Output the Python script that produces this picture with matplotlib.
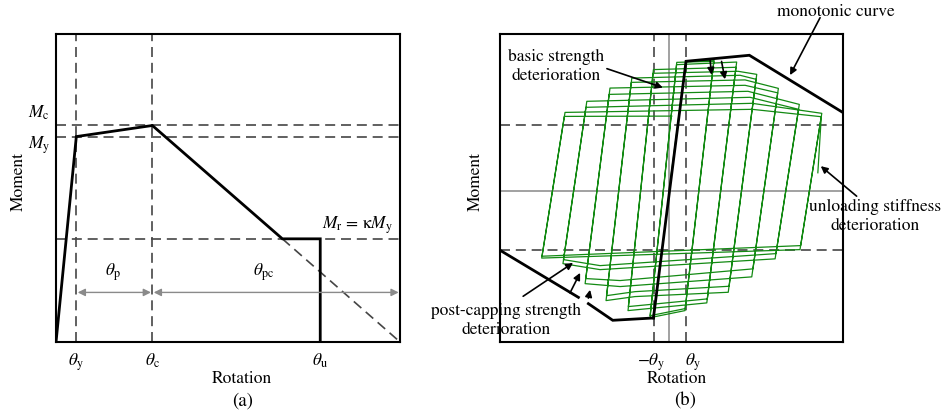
import numpy as np
import matplotlib
matplotlib.use("Agg")
import matplotlib.pyplot as plt

plt.rcParams['font.family'] = ['STIXGeneral', 'DejaVu Serif']
plt.rcParams['mathtext.fontset'] = 'stix'

#%% data, panel (a) backbone (normalised rotation / moment)
theta_y, theta_c, theta_u = 0.059, 0.28, 0.768
M_y, M_c, M_r = 0.667, 0.703, 0.335
theta_r = 0.658          # where the post-capping branch meets M_r
theta_end = 1.0          # post-capping branch extended to zero

bb_rot = [0.0, theta_y, theta_c, theta_r, theta_u, theta_u]
bb_mom = [0.0, M_y, M_c, M_r, M_r, 0.0]

#%% data, panel (b)
ty_neg, ty_pos = -0.087, 0.101
dash_hi, dash_lo = 0.427, -0.386

mono_pos_rot = [-0.091, 0.099, 0.468, 1.015]
mono_pos_mom = [-0.826, 0.841, 0.880, 0.507]
mono_neg_rot = [-0.091, -0.328, -0.470, np.nan, -0.528, -0.985]
mono_neg_mom = [-0.826, -0.841, -0.733, np.nan, -0.692, -0.386]

# cyclic response (two cycles per amplitude), vertices in loading order
hyst_rot = [0.0, 0.099,
            0.262, 0.093, -0.111, 0.045,                 # amp 1a
            0.261, 0.094, -0.110, 0.044,                 # amp 1b
            0.394, 0.220, -0.239, -0.091,                # amp 2a
            0.390, 0.223, -0.237, -0.093,                # amp 2b
            0.402, 0.511, 0.345, -0.198, -0.367, -0.217,  # amp 3a
            0.414, 0.507, 0.350, -0.198, -0.364, -0.220,  # amp 3b
            0.443, 0.637, 0.482, -0.285, -0.489, -0.344,  # amp 4a
            0.443, 0.633, 0.489, -0.285, -0.485, -0.349,  # amp 4b
            0.460, 0.759, 0.618, -0.402, -0.618, -0.479,  # amp 5a
            0.472, 0.755, 0.623, -0.402, -0.615, -0.484,  # amp 5b
            0.484, 0.890, 0.763, -0.742, -0.606,          # amp 6a
            0.484, 0.887, 0.767, -0.740, -0.610,          # amp 6b
            0.016]
hyst_mom = [0.0, 0.841,
            0.850, -0.778, -0.824, 0.834,
            0.841, -0.765, -0.811, 0.819,
            0.836, -0.728, -0.778, 0.787,
            0.802, -0.702, -0.752, 0.763,
            0.776, 0.756, -0.659, -0.687, -0.713, 0.732,
            0.750, 0.724, -0.620, -0.655, -0.681, 0.704,
            0.720, 0.665, -0.559, -0.622, -0.603, 0.667,
            0.685, 0.636, -0.507, -0.583, -0.570, 0.626,
            0.646, 0.561, -0.442, -0.512, -0.473, 0.581,
            0.607, 0.529, -0.408, -0.486, -0.447, 0.542,
            0.568, 0.503, -0.382, -0.437, 0.509,
            0.529, 0.481, -0.356, -0.425, 0.483,
            0.485]
# elastic unloading reference from last positive peak
elastic_ref_rot = [0.887, 0.867]
elastic_ref_mom = [0.481, 0.117]

DASH = dict(color='#454545', lw=1.2, ls=(0, (6, 3.5)))
FS = 12.5

fig = plt.figure(figsize=(9.48, 4.2), dpi=100)

#%% panel (a)
ax = fig.add_axes([0.0591, 0.1857, 0.3629, 0.7333])
ax.set_xlim(0, 1)
ax.set_ylim(0, 1)
for s in ax.spines.values():
    s.set_linewidth(1.5)
ax.set_xticks([])
ax.set_yticks([])

for xv in (theta_y, theta_c):
    ax.axvline(xv, **DASH)
for yv in (M_c, M_y, M_r):
    ax.axhline(yv, **DASH)
ax.plot([theta_r, theta_end], [M_r, 0.0], **DASH)
ax.plot(bb_rot, bb_mom, color='black', lw=2.0, solid_joinstyle='miter')

arr_y = 0.161
for x0, x1 in ((theta_y, theta_c), (theta_c, theta_end)):
    ax.annotate('', xy=(x1 - 0.004, arr_y), xytext=(x0 + 0.004, arr_y),
                arrowprops=dict(arrowstyle='<|-|>', color='#8a8a8a', lw=1.0,
                                mutation_scale=11, shrinkA=0, shrinkB=0))
ax.text(0.166, 0.19, r'$\theta_{\rm p}$', fontsize=FS, ha='center', va='bottom')
ax.text(0.603, 0.19, r'$\theta_{\rm pc}$', fontsize=FS, ha='center', va='bottom')
ax.text(0.98, 0.343, r'$M_{\rm r}$ = κ$M_{\rm y}$', fontsize=FS, ha='right', va='bottom')

ax.text(-0.05, 0.745, r'$M_{\rm c}$', fontsize=FS, ha='center', va='center')
ax.text(-0.05, 0.640, r'$M_{\rm y}$', fontsize=FS, ha='center', va='center')
for xv, lab in ((theta_y, r'$\theta_{\rm y}$'), (theta_c, r'$\theta_{\rm c}$'),
                (theta_u, r'$\theta_{\rm u}$')):
    ax.text(xv, -0.03, lab, fontsize=FS, ha='center', va='top',
            transform=ax.get_xaxis_transform())
ax.text(0.541, -0.095, 'Rotation', fontsize=FS, ha='center', va='top',
        transform=ax.transAxes)
ax.text(0.541, -0.165, '(a)', fontsize=FS + 1, ha='center', va='top',
        transform=ax.transAxes)
ax.text(-0.108, 0.52, 'Moment', fontsize=FS, ha='center', va='center',
        rotation=90, transform=ax.transAxes)

#%% panel (b)
bx = fig.add_axes([0.5274, 0.1857, 0.3621, 0.7333])
bx.set_xlim(-0.985, 1.015)
bx.set_ylim(-0.982, 1.018)
for s in bx.spines.values():
    s.set_linewidth(1.5)
bx.set_xticks([])
bx.set_yticks([])

bx.axhline(0, color='#9a9a9a', lw=1.3)
bx.axvline(0, color='#9a9a9a', lw=1.3)
for xv in (ty_neg, ty_pos):
    bx.axvline(xv, **DASH)
for yv in (dash_hi, dash_lo):
    bx.axhline(yv, **DASH)

bx.plot(hyst_rot, hyst_mom, color='#138a13', lw=0.9)
bx.plot(elastic_ref_rot, elastic_ref_mom, color='#138a13', lw=0.9)
bx.plot(mono_pos_rot, mono_pos_mom, color='black', lw=2.0, solid_joinstyle='miter')
bx.plot(mono_neg_rot, mono_neg_mom, color='black', lw=2.0, solid_joinstyle='miter')

AR = dict(arrowstyle='-|>', color='black', lw=1.2, mutation_scale=10,
          shrinkA=0, shrinkB=0)
bx.text(0.97, 1.16, 'monotonic curve', fontsize=FS, ha='center', va='center',
        clip_on=False)
bx.annotate('', xy=(0.705, 0.751), xytext=(0.880, 1.124), arrowprops=AR,
            annotation_clip=False)
bx.text(-0.66, 0.805, 'basic strength\ndeterioration', fontsize=FS,
        ha='center', va='center', linespacing=1.25)
bx.annotate('', xy=(-0.036, 0.670), xytext=(-0.362, 0.793), arrowprops=AR)
bx.text(1.20, -0.165, 'unloading stiffness\ndeterioration', fontsize=FS,
        ha='center', va='center', linespacing=1.25, clip_on=False)
bx.annotate('', xy=(0.884, 0.160), xytext=(1.093, -0.035), arrowprops=AR,
            annotation_clip=False)
bx.annotate('', xy=(0.248, 0.753), xytext=(0.239, 0.850), arrowprops=AR)
bx.annotate('', xy=(0.326, 0.724), xytext=(0.306, 0.840), arrowprops=AR)
bx.text(-0.95, -0.84, 'post-capping strength\ndeterioration', fontsize=FS,
        ha='center', va='center', linespacing=1.25, clip_on=False)
bx.annotate('', xy=(-0.559, -0.468), xytext=(-0.850, -0.685), arrowprops=AR,
            annotation_clip=False)
bx.annotate('', xy=(-0.518, -0.533), xytext=(-0.577, -0.663), arrowprops=AR)
bx.annotate('', xy=(-0.460, -0.643), xytext=(-0.470, -0.697), arrowprops=AR)

for xv, lab in ((ty_neg, r'$-\theta_{\rm y}$'), (ty_pos, r'$\theta_{\rm y}$')):
    bx.text(xv + (-0.02 if xv < 0 else 0.04), -0.03, lab, fontsize=FS,
            ha='center', va='top', transform=bx.get_xaxis_transform())
bx.text(0.516, -0.095, 'Rotation', fontsize=FS, ha='center', va='top',
        transform=bx.transAxes)
bx.text(0.538, -0.165, '(b)', fontsize=FS + 1, ha='center', va='top',
        transform=bx.transAxes)
bx.text(-0.07, 0.52, 'Moment', fontsize=FS, ha='center', va='center',
        rotation=90, transform=bx.transAxes)

fig.savefig('out.png', dpi=100)
